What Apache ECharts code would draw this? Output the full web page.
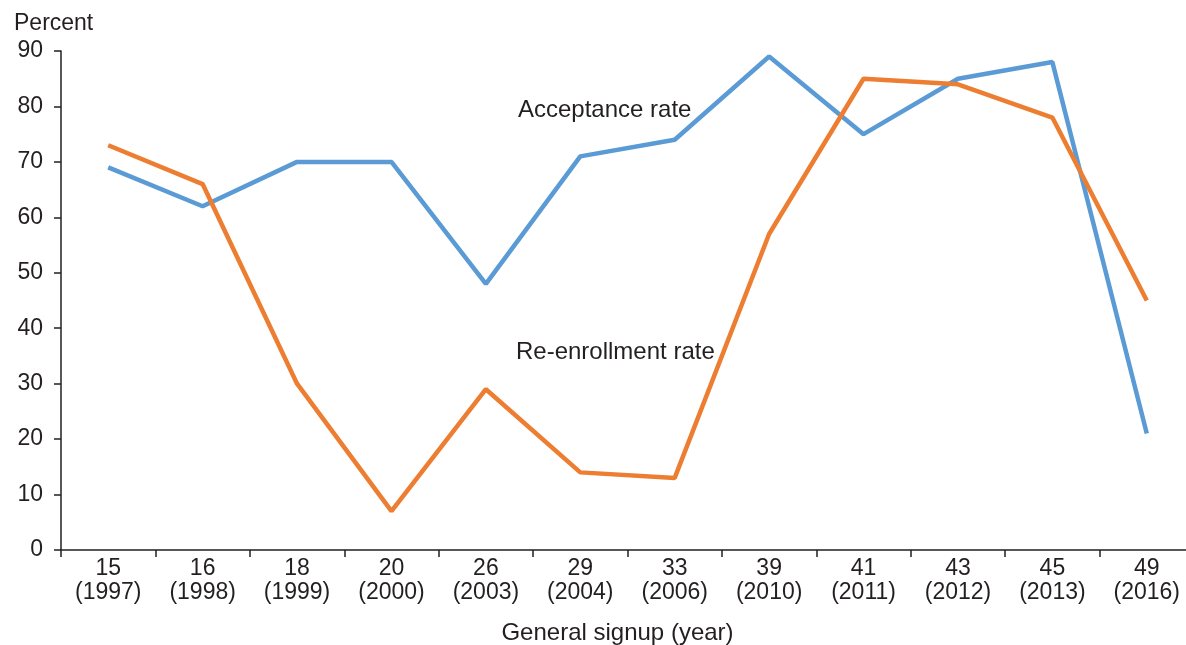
<!DOCTYPE html>
<html>
<head>
<meta charset="utf-8">
<script src="https://cdn.jsdelivr.net/npm/echarts@6/dist/echarts.min.js"></script>
<style>html,body{margin:0;padding:0;background:#fff;}#c{width:1186px;height:645px;}</style>
</head>
<body>
<div id="c"></div>
<script>
const categories = ['15\n(1997)','16\n(1998)','18\n(1999)','20\n(2000)','26\n(2003)','29\n(2004)','33\n(2006)','39\n(2010)','41\n(2011)','43\n(2012)','45\n(2013)','49\n(2016)'];
const acceptance = [69, 62, 70, 70, 48, 71, 74, 89, 75, 85, 88, 21];
const reenrollment = [73, 66, 30, 7, 29, 14, 13, 57, 85, 84, 78, 45];
const yTicks = [0, 10, 20, 30, 40, 50, 60, 70, 80, 90];

const font = "'Liberation Sans', Arial, Helvetica, sans-serif";
const fs = 23;
const chart = echarts.init(document.getElementById('c'), null, {renderer: 'canvas'});
chart.setOption({
  animation: false,
  backgroundColor: '#fff',
  grid: {left: 61, right: -8, top: 51, bottom: 95, containLabel: false, outerBoundsMode: 'none'},
  xAxis: {
    type: 'category',
    data: categories,
    boundaryGap: true,
    name: 'General signup (year)',
    nameLocation: 'middle',
    nameGap: 71,
    nameTextStyle: {fontFamily: font, fontSize: 24, color: '#231f20', padding: [0, 20, 0, 0]},
    axisLine: {lineStyle: {color: '#231f20', width: 1.5}},
    axisTick: {show: true, alignWithLabel: false, length: 7, lineStyle: {color: '#231f20', width: 1.5}},
    axisLabel: {fontFamily: font, fontSize: fs, color: '#231f20', lineHeight: 24, margin: 7, interval: 0}
  },
  yAxis: {
    type: 'value',
    min: yTicks[0],
    max: yTicks[yTicks.length - 1],
    interval: 10,
    axisLine: {show: true, lineStyle: {color: '#231f20', width: 1.5}},
    axisTick: {show: true, length: 7, lineStyle: {color: '#231f20', width: 1.5}},
    splitLine: {show: false},
    axisLabel: {fontFamily: font, fontSize: fs, color: '#231f20', margin: 18}
  },
  graphic: [
    {type: 'text', left: 14, top: 12, style: {text: 'Percent', fontFamily: font, fontSize: fs, fill: '#231f20'}},
    {type: 'text', left: 518, top: 98, style: {text: 'Acceptance rate', fontFamily: font, fontSize: 24, fill: '#231f20'}},
    {type: 'text', left: 516, top: 340, style: {text: 'Re-enrollment rate', fontFamily: font, fontSize: 24, fill: '#231f20'}}
  ],
  series: [
    {name: 'Acceptance rate', type: 'line', data: acceptance, symbol: 'none', lineStyle: {color: '#5b9bd5', width: 4.5}, itemStyle: {color: '#5b9bd5'}},
    {name: 'Re-enrollment rate', type: 'line', data: reenrollment, symbol: 'none', lineStyle: {color: '#ed7d31', width: 4.5}, itemStyle: {color: '#ed7d31'}}
  ]
});
</script>
</body>
</html>
